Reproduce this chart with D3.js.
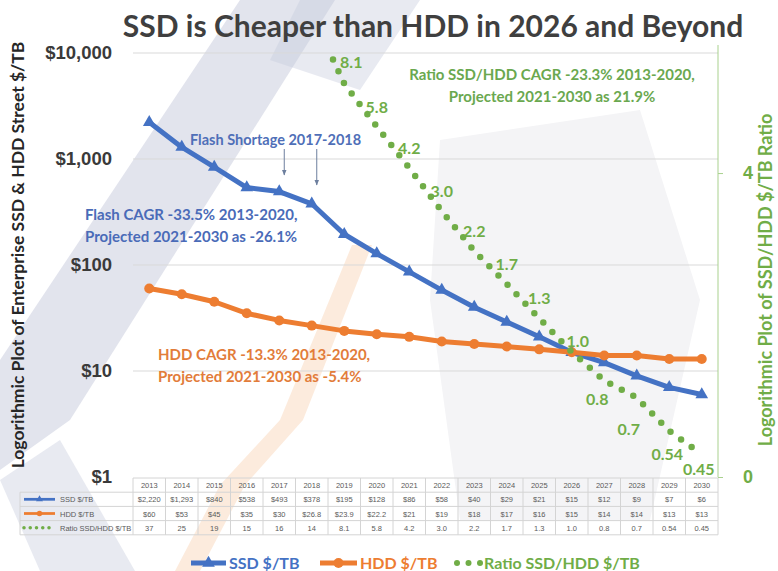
<!DOCTYPE html>
<html lang="en">
<head>
<meta charset="UTF-8">
<title>SSD is Cheaper than HDD in 2026 and Beyond</title>
<script src="https://d3js.org/d3.v7.min.js"></script>
<style>
  body { margin: 0; background: #fff; }
  svg { display: block; font-family: Lato, "Open Sans", sans-serif; }
  .tick-left { font-size: 18.5px; font-weight: 700; fill: #3a3a3a; }
  .tick-right { font-size: 18px; font-weight: 700; fill: #70ad47; }
  .cell { font-size: 7.5px; fill: #5a5a5a; font-family: "Liberation Sans", Arial, sans-serif; }
  .note { font-weight: 700; font-size: 15px; }
</style>
</head>
<body>
<div id="chart"></div>
<script>
  const years = ["2013","2014","2015","2016","2017","2018","2019","2020","2021","2022","2023","2024","2025","2026","2027","2028","2029","2030"];
  const ssdPrice = [2220, 1293, 840, 538, 493, 378, 195, 128, 86, 58, 40, 29, 21, 15, 12, 9, 7, 6];
  const hddPrice = [60, 53, 45, 35, 30, 26.8, 23.9, 22.2, 21, 19, 18, 17, 16, 15, 14, 14, 13, 13];
  const ratio = [37, 25, 19, 15, 16, 14, 8.1, 5.8, 4.2, 3.0, 2.2, 1.7, 1.3, 1.0, 0.8, 0.7, 0.54, 0.45];
  const ssdCells = ["$2,220","$1,293","$840","$538","$493","$378","$195","$128","$86","$58","$40","$29","$21","$15","$12","$9","$7","$6"];
  const hddCells = ["$60","$53","$45","$35","$30","$26.8","$23.9","$22.2","$21","$19","$18","$17","$16","$15","$14","$14","$13","$13"];
  const ratioCells = ["37","25","19","15","16","14","8.1","5.8","4.2","3.0","2.2","1.7","1.3","1.0","0.8","0.7","0.54","0.45"];
  const priceTicks = [1, 10, 100, 1000, 10000];
  const ratioTicks = [0, 4];
  const firstRatioLabel = 6; // labels start at 2019

  const blue = "#4472c4", orange = "#ed7d31", green = "#70ad47";
  const width = 778, height = 571;
  const plotL = 133, plotR = 718, plotT = 53, plotB = 477;

  const svg = d3.select("#chart").append("svg")
    .attr("width", width)
    .attr("height", height);

  // faint watermark behind the chart
  const wm = svg.append("g").attr("class", "watermark");
  wm.append("polygon")
    .attr("points", "440,140 640,110 700,300 650,520 460,520 430,300")
    .attr("fill", "#f4f4f6");
  wm.append("polygon")
    .attr("points", "240,0 335,0 70,420 0,470 0,360")
    .attr("fill", "#c5cadb").attr("opacity", 0.5);
  wm.append("polygon")
    .attr("points", "0,480 60,440 135,571 40,571")
    .attr("fill", "#c5cadb").attr("opacity", 0.4);
  wm.append("polygon")
    .attr("points", "300,0 420,0 360,90 270,60")
    .attr("fill", "#c5cadb").attr("opacity", 0.4);
  wm.append("polygon")
    .attr("points", "352,245 372,245 303,420 245,485 200,571 175,571 220,485 280,420")
    .attr("fill", "#f8d3b3").attr("opacity", 0.45);

  const x = d3.scaleBand().domain(years).range([plotL, plotR]);
  const cx = d => x(d) + x.bandwidth() / 2;
  const y = d3.scaleLog().domain([1, 10000]).range([plotB, plotT]);
  const yRatio = d3.scaleLog().domain([0.377, 10.3]).range([plotB, plotT]);
  const yRight = d3.scaleLinear().domain([0, 5.58]).range([plotB, plotT]);

  // title
  svg.append("text")
    .attr("x", 433).attr("y", 37)
    .attr("text-anchor", "middle")
    .style("font-size", "30px").style("font-weight", 700)
    .attr("fill", "#3f3f3f")
    .text("SSD is Cheaper than HDD in 2026 and Beyond");

  // gridlines
  svg.append("g")
    .selectAll("line")
    .data(priceTicks.slice(1))
    .join("line")
    .attr("x1", plotL).attr("x2", plotR)
    .attr("y1", d => y(d)).attr("y2", d => y(d))
    .attr("stroke", "#d9d9d9");

  // left axis labels
  const yAxis = d3.axisLeft(y)
    .tickValues(priceTicks)
    .tickFormat(d => "$" + d3.format(",")(d))
    .tickSize(0).tickPadding(21);
  const gy = svg.append("g").attr("transform", `translate(${plotL},0)`).call(yAxis);
  gy.select(".domain").remove();
  gy.selectAll("text").attr("class", "tick-left").attr("font-family", null).attr("font-size", null);

  // right axis
  const yAxisR = d3.axisRight(yRight).tickValues(ratioTicks).tickFormat(d3.format("d"))
    .tickSize(5).tickPadding(20);
  const gr = svg.append("g").attr("transform", `translate(${plotR},0)`).call(yAxisR);
  gr.select(".domain").attr("stroke", "#a9d18e").attr("d", `M0,45V${plotB}`);
  gr.selectAll(".tick line").attr("stroke", "#a9d18e");
  gr.selectAll("text").attr("class", "tick-right").attr("font-family", null).attr("font-size", null);

  // axis titles
  svg.append("text")
    .attr("transform", "translate(24,255) rotate(-90)")
    .attr("text-anchor", "middle")
    .style("font-size", "17.5px").style("font-weight", 700)
    .attr("fill", "#262626")
    .text("Logorithmic Plot of Enterprise SSD & HDD Street $/TB");
  svg.append("text")
    .attr("transform", "translate(772,280) rotate(-90)")
    .attr("text-anchor", "middle")
    .style("font-size", "18px").style("font-weight", 700)
    .attr("fill", green)
    .text("Logorithmic Plot of SSD/HDD $/TB Ratio");

  svg.append("clipPath").attr("id", "plotClip")
    .append("rect").attr("x", plotL).attr("y", plotT)
    .attr("width", plotR - plotL).attr("height", plotB - plotT);

  // SSD line
  const priceLine = d3.line().x((d, i) => cx(years[i])).y(d => y(d));
  svg.append("path").datum(ssdPrice)
    .attr("d", priceLine)
    .attr("fill", "none").attr("stroke", blue)
    .attr("stroke-width", 5).attr("stroke-linejoin", "round");
  svg.append("g").selectAll("path")
    .data(ssdPrice)
    .join("path")
    .attr("transform", (d, i) => `translate(${cx(years[i])},${y(d)})`)
    .attr("d", d3.symbol(d3.symbolTriangle, 70))
    .attr("fill", blue);

  // HDD line
  svg.append("path").datum(hddPrice)
    .attr("d", priceLine)
    .attr("fill", "none").attr("stroke", orange)
    .attr("stroke-width", 5).attr("stroke-linejoin", "round");
  svg.append("g").selectAll("circle")
    .data(hddPrice)
    .join("circle")
    .attr("cx", (d, i) => cx(years[i]))
    .attr("cy", d => y(d))
    .attr("r", 5)
    .attr("fill", orange);

  // ratio dotted line
  const ratioLine = d3.line().x((d, i) => cx(years[i])).y(d => yRatio(d));
  svg.append("path").datum(ratio)
    .attr("clip-path", "url(#plotClip)")
    .attr("d", ratioLine)
    .attr("fill", "none").attr("stroke", green)
    .attr("stroke-width", 6.5).attr("stroke-linecap", "round")
    .attr("stroke-dasharray", "0 13");

  // ratio labels: above the point until the crossover, below after it
  function labelOffset(i) {
    if (i === 6) return [7, -16];
    if (i === 13) return [6, -5];
    if (i === 14) return [-7, 24];
    if (i === 15) return [-8, 37];
    if (i === 16) return [-2, 29];
    if (i === 17) return [-3, 21];
    return [0, -14];
  }
  svg.append("g").selectAll("text")
    .data(ratio.slice(firstRatioLabel))
    .join("text")
    .attr("x", (d, k) => cx(years[k + firstRatioLabel]) + labelOffset(k + firstRatioLabel)[0])
    .attr("y", (d, k) => yRatio(d) + labelOffset(k + firstRatioLabel)[1])
    .attr("text-anchor", "middle")
    .style("font-size", "16px").style("font-weight", 700)
    .attr("fill", green)
    .text((d, k) => ratioCells[k + firstRatioLabel]);

  // annotations
  svg.append("text").attr("class", "note")
    .attr("x", 190).attr("y", 145).attr("fill", "#4f6fb8")
    .style("font-size", "14.5px")
    .text("Flash Shortage 2017-2018");
  svg.append("defs").append("marker")
    .attr("id", "arrow").attr("viewBox", "0 0 10 10")
    .attr("refX", 9).attr("refY", 5)
    .attr("markerWidth", 6).attr("markerHeight", 6)
    .attr("orient", "auto")
    .append("path").attr("d", "M0,1L10,5L0,9z").attr("fill", "#6d7f9e");
  [["2017", 175], ["2018", 185]].forEach(([yr, end]) => {
    const ax = cx(yr) + 5;
    svg.append("line")
      .attr("x1", ax).attr("x2", ax)
      .attr("y1", 149).attr("y2", end)
      .attr("stroke", "#6d7f9e").attr("stroke-width", 1)
      .attr("marker-end", "url(#arrow)");
  });

  const notes = [
    { x: 85, y: 220, color: "#4a6bb8", lines: ["Flash CAGR -33.5% 2013-2020,", "Projected 2021-2030 as -26.1%"], anchor: "start" },
    { x: 158, y: 360, color: "#e27c3a", lines: ["HDD CAGR -13.3% 2013-2020,", "Projected 2021-2030 as -5.4%"], anchor: "start" },
    { x: 552, y: 80, color: "#6aa84f", lines: ["Ratio SSD/HDD CAGR -23.3% 2013-2020,", "Projected 2021-2030 as 21.9%"], anchor: "middle" }
  ];
  notes.forEach(n => {
    const t = svg.append("text").attr("class", "note")
      .attr("x", n.x).attr("y", n.y)
      .attr("fill", n.color).attr("text-anchor", n.anchor);
    n.lines.forEach((l, i) => {
      t.append("tspan").attr("x", n.x).attr("dy", i ? 22 : 0).text(l);
    });
  });

  // data table
  const rowH = 14.2;
  const tableTop = plotB + 1;
  const tableLeft = 20;
  const tbl = svg.append("g").attr("class", "table");
  const rows = [
    { name: "SSD $/TB", cells: ssdCells, kind: "ssd" },
    { name: "HDD $/TB", cells: hddCells, kind: "hdd" },
    { name: "Ratio SSD/HDD $/TB", cells: ratioCells, kind: "ratio" }
  ];
  const grid = "#d4d4d4";
  tbl.append("line").attr("x1", plotL).attr("x2", plotR)
    .attr("y1", tableTop).attr("y2", tableTop).attr("stroke", grid);
  for (let r = 1; r <= rows.length + 1; r++) {
    tbl.append("line").attr("x1", tableLeft).attr("x2", plotR)
      .attr("y1", tableTop + r * rowH).attr("y2", tableTop + r * rowH)
      .attr("stroke", grid);
  }
  tbl.selectAll("line.v")
    .data(years.concat(["end"]))
    .join("line")
    .attr("class", "v")
    .attr("x1", d => d === "end" ? plotR : x(d))
    .attr("x2", d => d === "end" ? plotR : x(d))
    .attr("y1", tableTop).attr("y2", tableTop + (rows.length + 1) * rowH)
    .attr("stroke", grid);
  tbl.append("line").attr("x1", tableLeft).attr("x2", tableLeft)
    .attr("y1", tableTop + rowH).attr("y2", tableTop + (rows.length + 1) * rowH)
    .attr("stroke", grid);
  tbl.append("g").selectAll("text")
    .data(years).join("text")
    .attr("class", "cell")
    .attr("x", d => cx(d)).attr("y", tableTop + rowH / 2 + 3)
    .attr("text-anchor", "middle")
    .text(d => d);
  rows.forEach((row, r) => {
    const yy = tableTop + (r + 1) * rowH + rowH / 2;
    tbl.append("g").selectAll("text")
      .data(row.cells).join("text")
      .attr("class", "cell")
      .attr("x", (d, i) => cx(years[i])).attr("y", yy + 3)
      .attr("text-anchor", "middle")
      .text(d => d);
    tbl.append("text").attr("class", "cell")
      .attr("x", 60).attr("y", yy + 3).text(row.name);
    drawKey(tbl, row.kind, 24, 55, yy, 0.55);
  });

  function drawKey(g, kind, x0, x1, yy, s) {
    if (kind === "ratio") {
      const n = 5;
      for (let k = 0; k < n; k++) {
        g.append("circle").attr("cx", x0 + k * (x1 - x0 - 6) / (n - 1)).attr("cy", yy)
          .attr("r", 3.2 * s).attr("fill", green);
      }
      return;
    }
    const col = kind === "ssd" ? blue : orange;
    g.append("line").attr("x1", x0).attr("x2", x1).attr("y1", yy).attr("y2", yy)
      .attr("stroke", col).attr("stroke-width", 5 * s);
    const mx = (x0 + x1) / 2;
    if (kind === "ssd") {
      g.append("path").attr("transform", `translate(${mx},${yy})`)
        .attr("d", d3.symbol(d3.symbolTriangle, 70 * s * s)).attr("fill", col);
    } else {
      g.append("circle").attr("cx", mx).attr("cy", yy).attr("r", 5 * s).attr("fill", col);
    }
  }

  // legend
  const ly = 563;
  const leg = svg.append("g").attr("class", "legend");
  drawKey(leg, "ssd", 191, 226, ly, 1);
  drawKey(leg, "hdd", 320, 357, ly, 1);
  [457, 468.5, 480].forEach(px => leg.append("circle").attr("cx", px).attr("cy", ly).attr("r", 3).attr("fill", green));
  [["SSD $/TB", 229, blue], ["HDD $/TB", 360, orange], ["Ratio SSD/HDD $/TB", 484, green]].forEach(([t, px, c]) => {
    leg.append("text").attr("x", px).attr("y", ly + 6)
      .style("font-size", "16px").style("font-weight", 700)
      .attr("fill", c).text(t);
  });
</script>
</body>
</html>
